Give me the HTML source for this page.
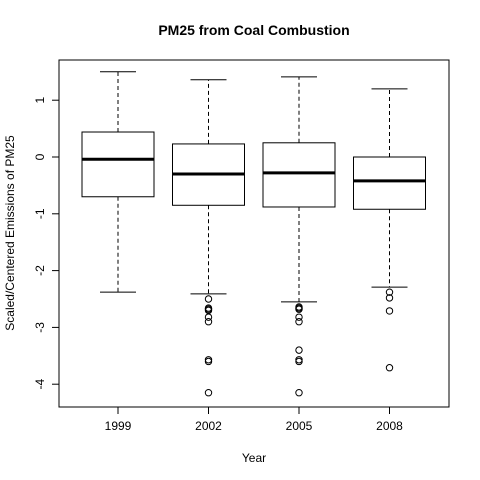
<!DOCTYPE html>
<html><head><meta charset="utf-8"><style>body{margin:0;background:#fff}svg{display:block;font-family:"Liberation Sans",Arial,sans-serif}</style></head>
<body>
<svg id="chart" width="480" height="480">
<text x="254" y="35" text-anchor="middle" font-weight="bold" font-size="14">PM25 from Coal Combustion</text>
<text x="254" y="462" text-anchor="middle" font-size="12">Year</text>
<text transform="translate(14,233) rotate(-90)" text-anchor="middle" font-size="12">Scaled/Centered Emissions of PM25</text>
<rect x="59" y="60" width="390" height="347" fill="none" stroke="#000"/>
</svg>
<script>
const categories=["1999","2002","2005","2008"];
const whiskerLow=[-2.38,-2.41,-2.55,-2.29];
const q1=[-0.7,-0.85,-0.88,-0.92];
const medians=[-0.04,-0.3,-0.28,-0.42];
const q3=[0.44,0.23,0.25,0.0];
const whiskerHigh=[1.5,1.36,1.41,1.2];
const outliers=[[],[-2.5,-2.66,-2.68,-2.7,-2.82,-2.9,-3.57,-3.6,-4.15],[-2.64,-2.66,-2.68,-2.82,-2.9,-3.4,-3.57,-3.6,-4.15],[-2.38,-2.48,-2.71,-3.71]];
const yTicks=[-4,-3,-2,-1,0,1];
const NS="http://www.w3.org/2000/svg",svg=document.getElementById('chart');
const y=v=>157-56.8*v, x=i=>118+90.5*i;
function mk(t,a){const e=document.createElementNS(NS,t);for(const k in a)e.setAttribute(k,a[k]);svg.appendChild(e);return e;}
yTicks.forEach(v=>{
 const l=mk('line',{x1:52,x2:59,y1:y(v),y2:y(v),stroke:'#000'});
 
 
 const t=mk('text',{transform:`translate(44,${y(v)}) rotate(-90)`,'text-anchor':'middle','font-size':12});
 t.textContent=v;
 
 
});
categories.forEach((c,i)=>{
 const cx=x(i),hw=36,cw=18;
 const tk=mk('line',{x1:cx,x2:cx,y1:407,y2:414,stroke:'#000'});
 
 
 const t=mk('text',{x:cx,y:430,'text-anchor':'middle','font-size':12});
 t.textContent=c;
 
 
 const g=document.createElementNS(NS,'g');svg.appendChild(g);
 
 
 const add=(t,a)=>{const e=document.createElementNS(NS,t);for(const k in a)e.setAttribute(k,a[k]);g.appendChild(e);return e;};
 add('line',{x1:cx,x2:cx,y1:y(q3[i]),y2:y(whiskerHigh[i]),stroke:'#000','stroke-dasharray':'4,3'});
 add('line',{x1:cx,x2:cx,y1:y(q1[i]),y2:y(whiskerLow[i]),stroke:'#000','stroke-dasharray':'4,3'});
 add('line',{x1:cx-cw,x2:cx+cw,y1:y(whiskerHigh[i]),y2:y(whiskerHigh[i]),stroke:'#000'});
 add('line',{x1:cx-cw,x2:cx+cw,y1:y(whiskerLow[i]),y2:y(whiskerLow[i]),stroke:'#000'});
 add('rect',{x:cx-hw,y:y(q3[i]),width:2*hw,height:y(q1[i])-y(q3[i]),fill:'#fff',stroke:'#000'});
 add('line',{x1:cx-hw,x2:cx+hw,y1:y(medians[i]),y2:y(medians[i]),stroke:'#000','stroke-width':3});
 outliers[i].forEach(v=>{
  const o=add('circle',{cx:cx,cy:y(v),r:3.2,fill:'none',stroke:'#000'});
  
  
 });
});
</script>
</body></html>
